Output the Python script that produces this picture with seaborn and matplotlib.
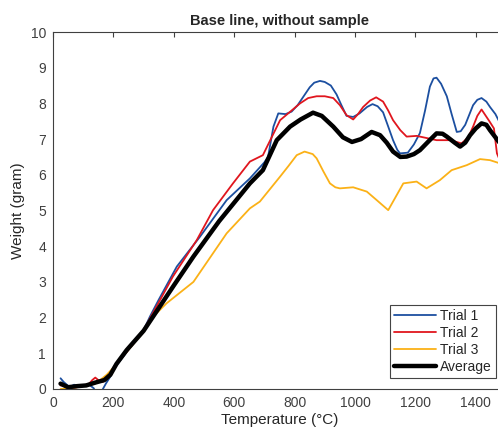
import numpy as np
import pandas as pd
import matplotlib
matplotlib.use("Agg")
import matplotlib.pyplot as plt
import seaborn as sns

# ============================================================
# Data (temperature in degC, weight in gram)
# ============================================================

trial1_temp = [25, 35, 55, 70, 85, 100, 120, 135, 150, 162, 175, 190, 200, 250, 300,
               321, 350, 410, 487, 575, 652, 700, 712, 730, 746, 770, 790, 810, 830,
               850, 865, 884, 900, 920, 939, 955, 972, 994, 1015, 1040, 1058, 1075,
               1093, 1110, 1126, 1140, 1149, 1175, 1195, 1215, 1232, 1248, 1260, 1270,
               1285, 1304, 1320, 1337, 1350, 1365, 1391, 1405, 1419, 1435, 1447, 1465,
               1480]
trial1_weight = [0.3, 0.2, 0.05, 0.12, 0.08, 0.1, 0.12, 0.02, -0.3, -0.05, 0.15, 0.35,
                 0.55, 1.1, 1.65, 2.03, 2.5, 3.43, 4.27, 5.29, 5.9, 6.35, 6.5, 7.35,
                 7.72, 7.7, 7.77, 7.95, 8.2, 8.45, 8.58, 8.63, 8.6, 8.5, 8.25, 7.95,
                 7.65, 7.62, 7.72, 7.9, 7.98, 7.92, 7.75, 7.35, 6.97, 6.7, 6.6, 6.62,
                 6.85, 7.17, 7.8, 8.47, 8.7, 8.72, 8.55, 8.2, 7.7, 7.2, 7.22, 7.4, 7.95,
                 8.1, 8.15, 8.05, 7.9, 7.7, 7.45]

trial2_temp = [25, 40, 60, 80, 100, 120, 130, 140, 150, 165, 180, 200, 250, 300, 397,
               476, 530, 596, 652, 695, 752, 790, 818, 845, 873, 900, 928, 950, 972,
               994, 1010, 1027, 1050, 1070, 1093, 1110, 1126, 1150, 1171, 1204, 1237,
               1270, 1315, 1353, 1375, 1391, 1405, 1419, 1445, 1460, 1470, 1480]
trial2_weight = [0.1, 0.1, 0.02, 0.05, 0.1, 0.15, 0.25, 0.32, 0.25, 0.2, 0.3, 0.6, 1.1,
                 1.65, 3.15, 4.17, 5.01, 5.76, 6.37, 6.55, 7.53, 7.8, 8.0, 8.15, 8.2,
                 8.2, 8.15, 7.95, 7.67, 7.55, 7.7, 7.9, 8.08, 8.17, 8.05, 7.8, 7.53,
                 7.25, 7.07, 7.09, 7.03, 6.97, 6.97, 6.88, 7.05, 7.35, 7.65, 7.83, 7.5,
                 7.3, 6.6, 6.4]

trial3_temp = [25, 50, 80, 110, 140, 156, 178, 200, 250, 300, 332, 376, 465, 575, 652,
               685, 752, 780, 807, 833, 860, 873, 895, 917, 935, 950, 994, 1039, 1072,
               1110, 1160, 1204, 1237, 1281, 1320, 1370, 1414, 1447, 1480]
trial3_weight = [0.0, 0.02, 0.05, 0.1, 0.15, 0.25, 0.4, 0.6, 1.1, 1.6, 2.03, 2.4, 3.0,
                 4.36, 5.06, 5.25, 5.95, 6.25, 6.55, 6.65, 6.58, 6.46, 6.1, 5.76, 5.65,
                 5.62, 5.65, 5.53, 5.29, 5.01, 5.76, 5.81, 5.62, 5.85, 6.13, 6.27, 6.44,
                 6.41, 6.32]

avg_temp = [25, 50, 80, 110, 140, 170, 190, 210, 244, 300, 400, 465, 550, 652, 695,
            741, 785, 820, 861, 890, 928, 960, 990, 1020, 1055, 1083, 1105, 1126, 1150,
            1171, 1195, 1215, 1245, 1270, 1290, 1304, 1330, 1348, 1365, 1381, 1400,
            1419, 1435, 1447, 1465, 1480]
avg_weight = [0.15, 0.05, 0.08, 0.1, 0.18, 0.25, 0.4, 0.7, 1.09, 1.63, 2.9, 3.71, 4.7,
              5.76, 6.13, 6.97, 7.35, 7.55, 7.74, 7.65, 7.35, 7.05, 6.92, 7.0, 7.2,
              7.11, 6.9, 6.65, 6.5, 6.51, 6.58, 6.69, 6.95, 7.16, 7.15, 7.07, 6.9,
              6.79, 6.9, 7.11, 7.3, 7.44, 7.4, 7.25, 7.05, 6.88]

series_labels = ["Trial 1", "Trial 2", "Trial 3", "Average"]
series_colors = ["#1c4fa0", "#e0161e", "#fbb117", "#000000"]
series_widths = [1.3, 1.3, 1.3, 3.2]

x_ticks = [0, 200, 400, 600, 800, 1000, 1200, 1400]
y_ticks = list(range(0, 11))

# ============================================================
# Plot
# ============================================================

sns.set_style("white")
plt.rcParams["font.family"] = ["Liberation Sans", "DejaVu Sans"]

fig = plt.figure(figsize=(4.98, 4.32), dpi=100)
# axes run slightly past the right edge of the figure, as in the reference
ax = fig.add_axes([53 / 498, 43 / 432, 453 / 498, 357 / 432])

all_series = [(trial1_temp, trial1_weight), (trial2_temp, trial2_weight),
              (trial3_temp, trial3_weight), (avg_temp, avg_weight)]
for (xs, ys), lab, col, lw in zip(all_series, series_labels, series_colors, series_widths):
    sns.lineplot(x=xs, y=ys, ax=ax, color=col, linewidth=lw, label=lab)

ax.set_xlim(0, 1500)
ax.set_ylim(0, 10)
ax.set_xticks(x_ticks)
ax.set_yticks(y_ticks)

axis_color = "#404040"
for side in ["left", "right", "top", "bottom"]:
    ax.spines[side].set_visible(True)
    ax.spines[side].set_color(axis_color)
    ax.spines[side].set_linewidth(0.8)
ax.tick_params(direction="in", length=3.5, width=0.8, top=True, right=True,
               colors=axis_color, labelsize=10, pad=5)

ax.set_xlabel("Temperature (°C)", fontsize=11, color="#262626", labelpad=2)
ax.set_ylabel("Weight (gram)", fontsize=11, color="#262626", labelpad=4)
ax.set_title("Base line, without sample", fontsize=10.5, fontweight="bold", pad=5)

leg = ax.legend(loc="lower right", bbox_to_anchor=(496 / 498, 54 / 432),
                bbox_transform=fig.transFigure, fontsize=10, frameon=True,
                fancybox=False, framealpha=1, edgecolor="#444444",
                handlelength=3.0, labelspacing=0.22, borderpad=0.3,
                handletextpad=0.3, borderaxespad=0)
leg.get_frame().set_linewidth(0.8)

fig.savefig("out.png", dpi=100)
